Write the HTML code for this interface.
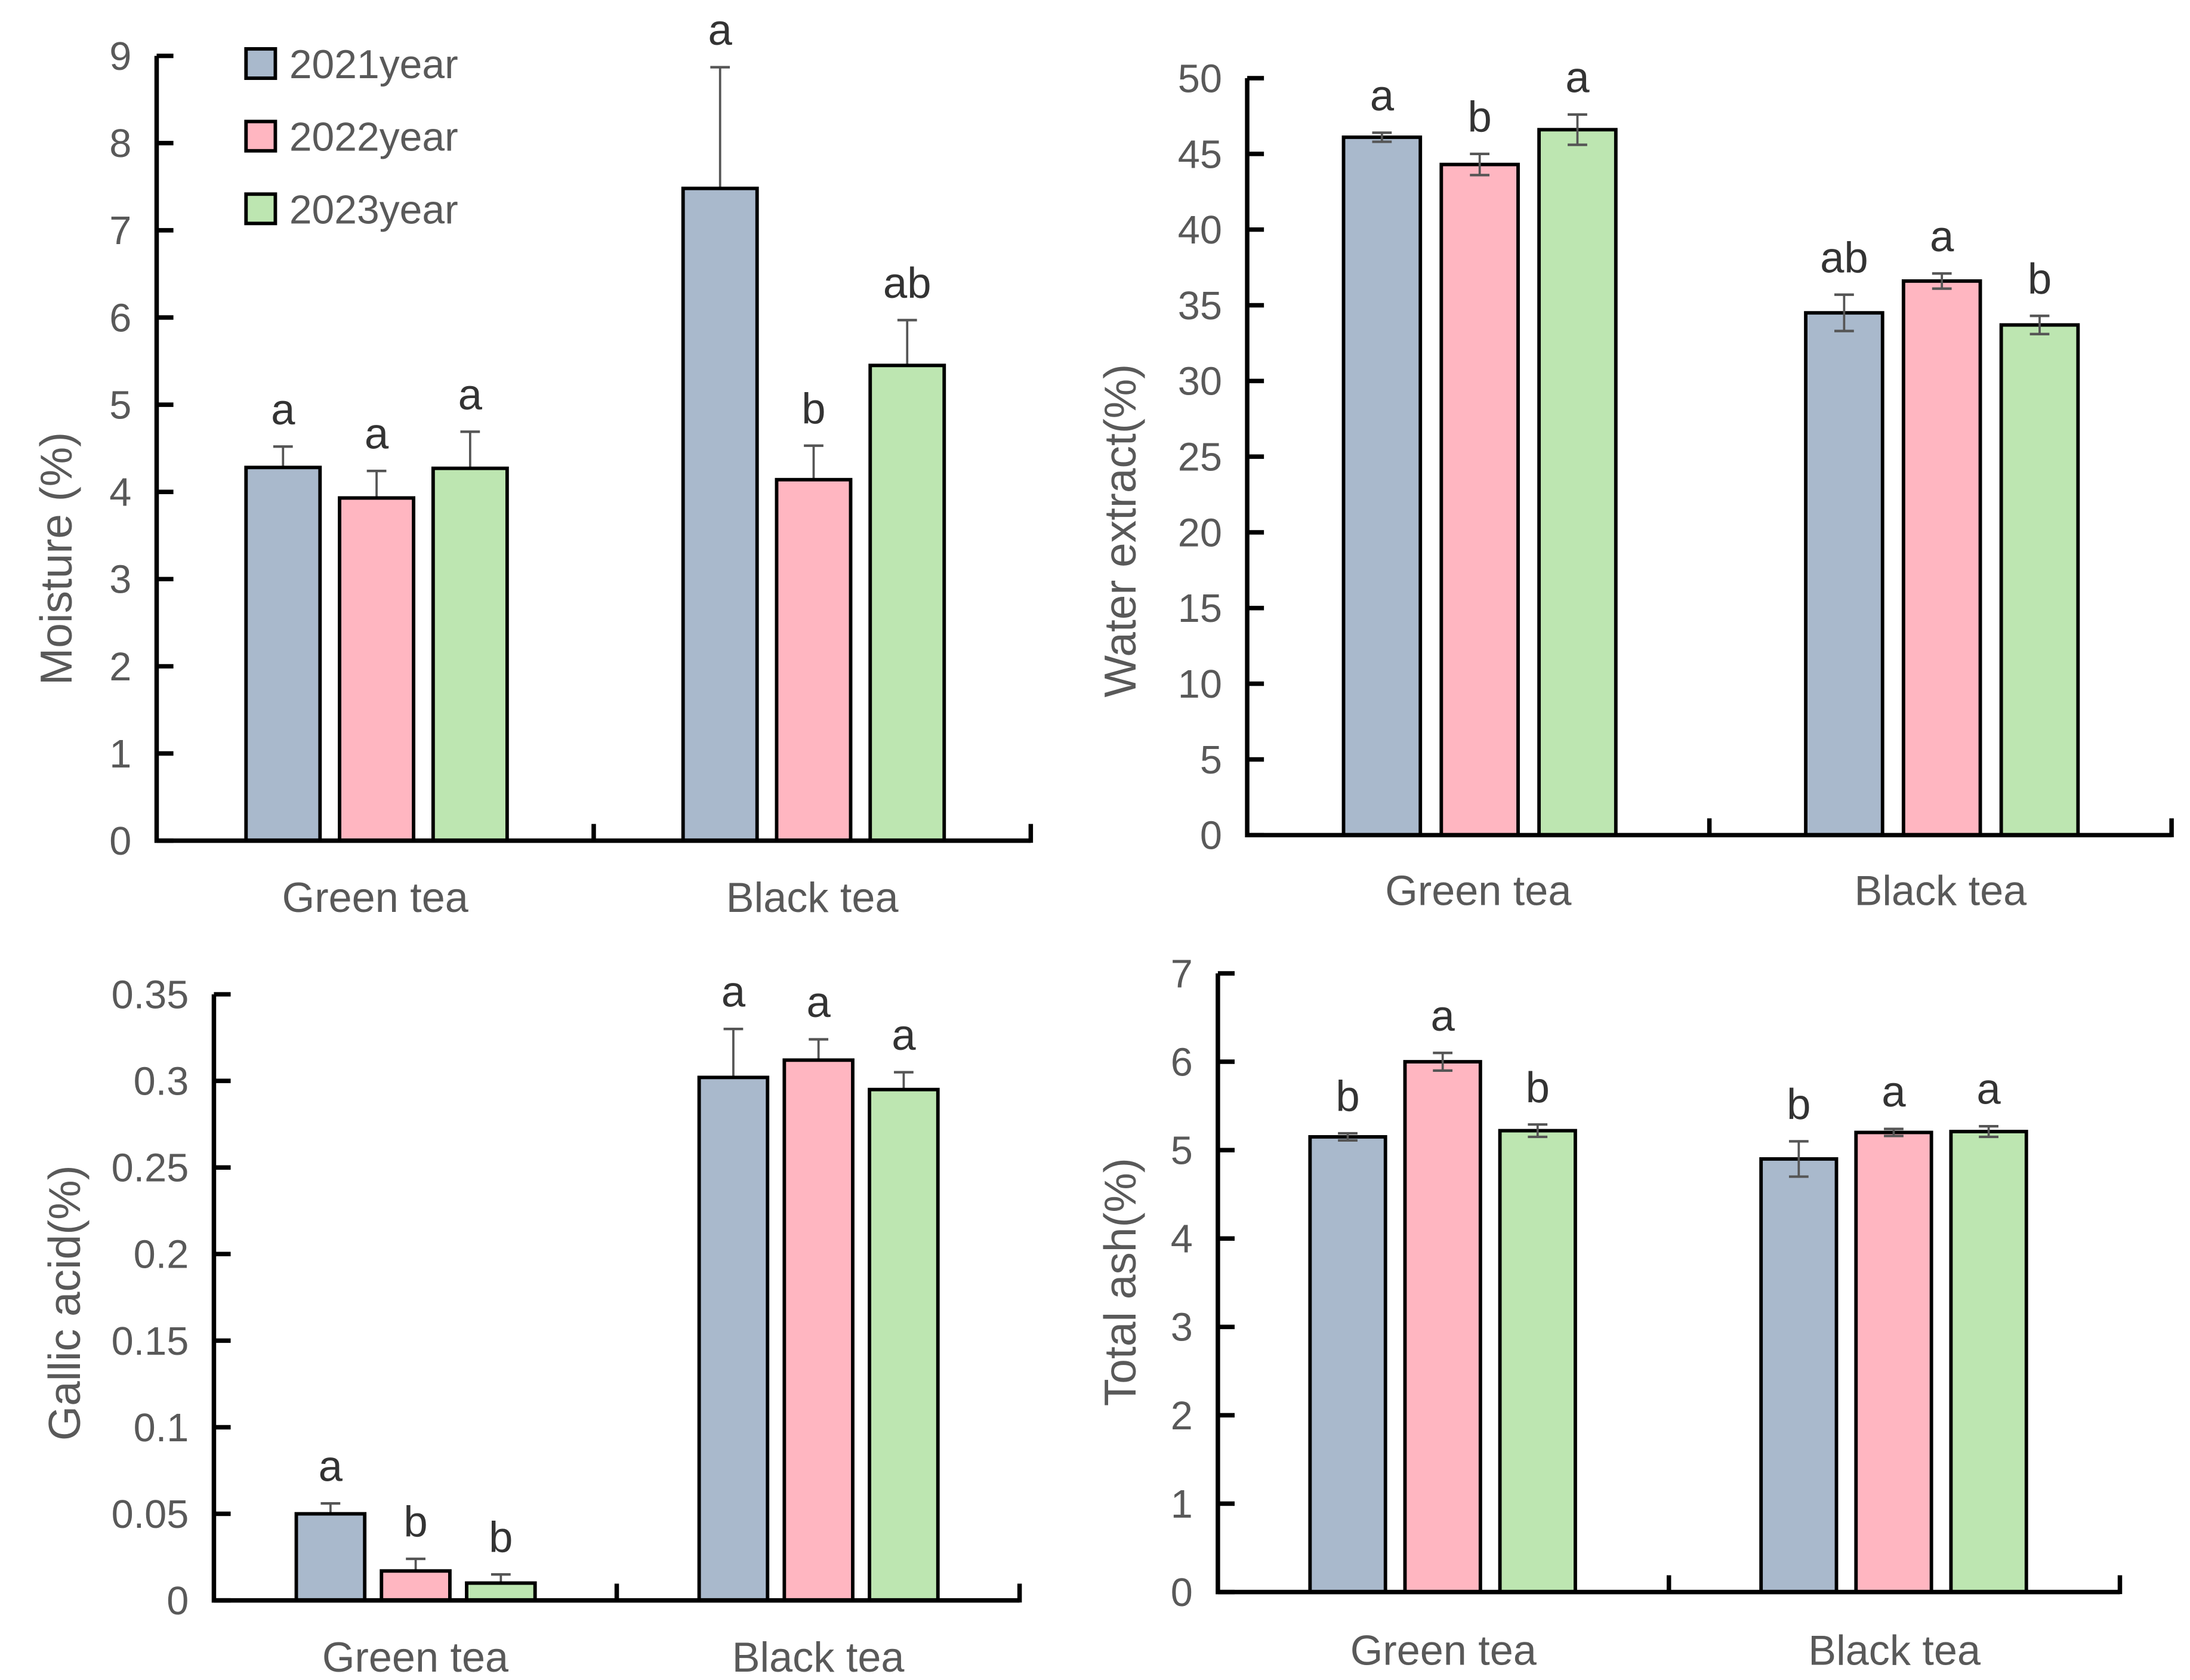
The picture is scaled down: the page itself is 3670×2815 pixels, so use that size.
<!DOCTYPE html>
<html><head><meta charset="utf-8"><style>
html,body{margin:0;padding:0;background:#fff;}
svg{display:block;font-family:"Liberation Sans",Arial,sans-serif;}
</style></head><body>
<svg id="chart" width="3670" height="2815" viewBox="0 0 1568 1203" xmlns="http://www.w3.org/2000/svg">
<rect width="1568" height="1203" fill="#fff"/>
<g id="legend">
<g><rect x="176" y="35" width="21" height="21" fill="#a9b9cc" stroke="#000" stroke-width="2.5"/><text x="207" y="56" font-size="29" fill="#595959">2021year</text></g>
<g><rect x="176" y="87" width="21" height="21" fill="#ffb6c1" stroke="#000" stroke-width="2.5"/><text x="207" y="108" font-size="29" fill="#595959">2022year</text></g>
<g><rect x="176" y="139" width="21" height="21" fill="#bde6b1" stroke="#000" stroke-width="2.5"/><text x="207" y="160" font-size="29" fill="#595959">2023year</text></g>
</g>
</svg>
<script>
const categories = ["Green tea","Black tea"];
const colors = ["#a9b9cc","#ffb6c1","#bde6b1"];
// Panel 1 Moisture
const p1Values = [[4.28,3.93,4.27],[7.48,4.14,5.45]];
const p1Errors = [[0.24,0.31,0.42],[1.39,0.39,0.52]];
const p1Letters = [["a","a","a"],["a","b","ab"]];
const p1Ticks = ["0","1","2","3","4","5","6","7","8","9"];
// Panel 2 Water extract
const p2Values = [[46.1,44.3,46.6],[34.5,36.6,33.7]];
const p2Errors = [[0.3,0.7,1.0],[1.2,0.5,0.6]];
const p2Letters = [["a","b","a"],["ab","a","b"]];
const p2Ticks = ["0","5","10","15","20","25","30","35","40","45","50"];
// Panel 3 Gallic acid
const p3Values = [[0.050,0.017,0.010],[0.302,0.312,0.295]];
const p3Errors = [[0.006,0.007,0.005],[0.028,0.012,0.010]];
const p3Letters = [["a","b","b"],["a","a","a"]];
const p3Ticks = ["0","0.05","0.1","0.15","0.2","0.25","0.3","0.35"];
// Panel 4 Total ash
const p4Values = [[5.15,6.00,5.22],[4.90,5.20,5.21]];
const p4Errors = [[0.04,0.10,0.07],[0.20,0.04,0.06]];
const p4Letters = [["b","a","b"],["b","a","a"]];
const p4Ticks = ["0","1","2","3","4","5","6","7"];

const NS="http://www.w3.org/2000/svg";
const svg=document.getElementById('chart');
function mk(tag,attrs,parent){const e=document.createElementNS(NS,tag);for(const k in attrs)e.setAttribute(k,attrs[k]);(parent||svg).appendChild(e);return e;}

function panel(cfg){
  const g=mk('g',{});
  
  
  const max=parseFloat(cfg.ticks[cfg.ticks.length-1]);
  const y=v=>cfg.y0-(v/max)*(cfg.y0-cfg.yTop);
  const xEnd=cfg.x1;
  const mid=(cfg.x0+xEnd)/2;
  const groupW=(xEnd-cfg.x0)/2;
  const x=(gi,si)=>cfg.x0+gi*groupW+cfg.off+si*cfg.step;
  cfg.values.forEach((grp,gi)=>grp.forEach((v,si)=>{
    const bx=x(gi,si), top=y(v), e=cfg.errors[gi][si], cx=bx+cfg.bw/2;
    if(!cfg.both){
      const ln=mk('line',{x1:cx,x2:cx,y1:top,y2:y(v+e),stroke:'#555','stroke-width':1.6},g);
      
      
      mk('line',{x1:cx-7,x2:cx+7,y1:y(v+e),y2:y(v+e),stroke:'#555','stroke-width':1.8},g);
    }
    const r=mk('rect',{x:bx,y:top,width:cfg.bw,height:cfg.y0-top,fill:colors[si],stroke:'#000','stroke-width':2.5},g);
    
    
    if(cfg.both){
      const ln=mk('line',{x1:cx,x2:cx,y1:y(v-e),y2:y(v+e),stroke:'#555','stroke-width':1.6},g);
      
      
      mk('line',{x1:cx-7,x2:cx+7,y1:y(v+e),y2:y(v+e),stroke:'#555','stroke-width':1.8},g);
      mk('line',{x1:cx-7,x2:cx+7,y1:y(v-e),y2:y(v-e),stroke:'#555','stroke-width':1.8},g);
    }
    const t=mk('text',{x:cx,y:y(v+e)-16,'font-size':31,fill:'#333','text-anchor':'middle'},g);
    t.textContent=cfg.letters[gi][si];
    
    
  }));
  const ax=mk('path',{d:`M${cfg.x0},${cfg.yTop} V${cfg.y0} H${xEnd}`,fill:'none',stroke:'#000','stroke-width':3.2},g);
  
  
  mk('line',{x1:mid,x2:mid,y1:cfg.y0,y2:cfg.y0-12,stroke:'#000','stroke-width':3.2},g);
  mk('line',{x1:xEnd,x2:xEnd,y1:cfg.y0+1.5,y2:cfg.y0-12,stroke:'#000','stroke-width':3.2},g);
  cfg.ticks.forEach(tk=>{
    const ty=y(parseFloat(tk));
    mk('line',{x1:cfg.x0,x2:cfg.x0+12,y1:ty,y2:ty,stroke:'#000','stroke-width':3.2},g);
    const t=mk('text',{x:cfg.x0-18,y:ty+10,'font-size':28.5,fill:'#595959','text-anchor':'end'},g);
    t.textContent=tk;
    
    
  });
  categories.forEach((c,gi)=>{
    const t=mk('text',{x:cfg.x0+groupW*(gi+0.5)+cfg.catShift,y:cfg.catY,'font-size':30,fill:'#595959','text-anchor':'middle'},g);
    t.textContent=c;
    
    
  });
  const yt=mk('text',{x:0,y:0,'font-size':32,fill:'#595959','text-anchor':'middle',transform:`translate(${cfg.titleX},${cfg.titleY}) rotate(-90)`},g);
  yt.textContent=cfg.title;
  
  
}
panel({name:'moisture-panel',values:p1Values,errors:p1Errors,letters:p1Letters,ticks:p1Ticks,x0:112,x1:738,y0:602,yTop:40,off:64,step:67,bw:53,both:false,catY:653,catShift:0,title:'Moisture (%)',titleX:51,titleY:400});
panel({name:'water-extract-panel',values:p2Values,errors:p2Errors,letters:p2Letters,ticks:p2Ticks,x0:893,x1:1555,y0:598,yTop:56,off:69,step:70,bw:55,both:true,catY:648,catShift:0,title:'Water extract(%)',titleX:813,titleY:380});
panel({name:'gallic-acid-panel',values:p3Values,errors:p3Errors,letters:p3Letters,ticks:p3Ticks,x0:153,x1:730,y0:1146,yTop:712,off:59,step:61,bw:49,both:false,catY:1197,catShift:0,title:'Gallic acid(%)',titleX:57,titleY:933});
panel({name:'total-ash-panel',values:p4Values,errors:p4Errors,letters:p4Letters,ticks:p4Ticks,x0:872,x1:1518,y0:1140,yTop:697,off:66,step:68,bw:54,both:true,catY:1192,catShift:0,title:'Total ash(%)',titleX:813,titleY:918});
</script>
</body></html>
